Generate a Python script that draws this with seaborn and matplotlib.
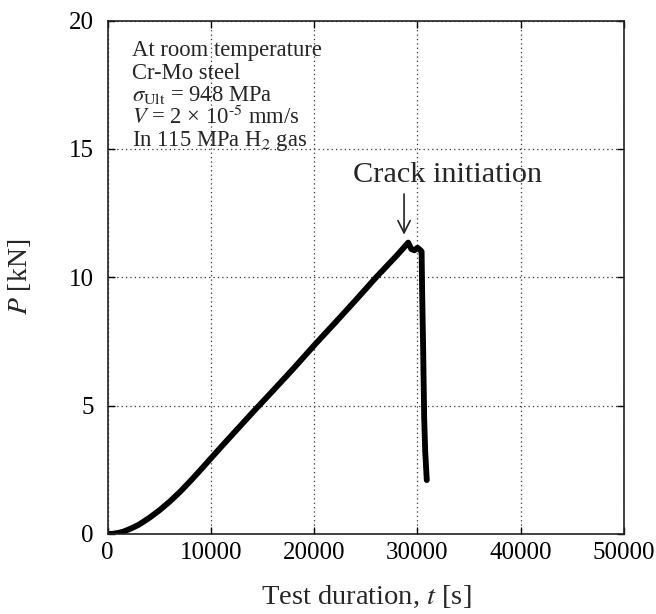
import matplotlib
matplotlib.use("Agg")
import matplotlib.pyplot as plt
import seaborn as sns
import pandas as pd

# Data
time_s = [0, 500, 1000, 1500, 2000, 2500, 3000, 4000, 5000, 6000, 7000,
          8000, 9000, 10000, 11000, 12000, 13000, 14000, 16000, 18000,
          20000, 22000, 24000, 26000, 28000, 29000, 29100, 29400, 29700,
          30000, 30300, 30400, 30450, 30550, 30650, 30750, 30900]
load_kN = [0, 0.01, 0.04, 0.09, 0.17, 0.26, 0.36, 0.62, 0.92, 1.26, 1.64,
           2.06, 2.5, 2.95, 3.4, 3.84, 4.28, 4.72, 5.58, 6.45,
           7.35, 8.22, 9.1, 10.0, 10.85, 11.3, 11.35, 11.1, 11.05,
           11.15, 11.05, 11.0, 9.5, 7.2, 4.5, 3.2, 2.1]
x_ticks = [0, 10000, 20000, 30000, 40000, 50000]
y_ticks = [0, 5, 10, 15, 20]
info_lines = ["At room temperature", "Cr-Mo steel",
              r"$\sigma_{\rm Ult}$ = 948 MPa",
              r"$V$ = 2 × 10$^{\text{-5}}$ mm/s",
              r"In 115 MPa H$_2$ gas"]
annotation_text = "Crack initiation"

df = pd.DataFrame({"t": time_s, "P": load_kN})

sns.set_style("ticks")
plt.rcParams["font.family"] = ["Liberation Serif", "DejaVu Serif"]
plt.rcParams["mathtext.fontset"] = "stix"

fig = plt.figure(figsize=(6.56, 6.14), dpi=100)
ax = fig.add_axes([0.1642, 0.1303, 0.787, 0.8363])

sns.lineplot(data=df, x="t", y="P", ax=ax, color="black", linewidth=4.2,
             sort=False, estimator=None)

ax.set_xlim(0, 50000)
ax.set_ylim(0, 20)
ax.set_xticks(x_ticks)
ax.set_yticks(y_ticks)
ax.set_xticklabels([str(v) for v in x_ticks])
ax.set_yticklabels([str(v) for v in y_ticks])
ax.grid(True, linestyle=(0, (1, 2.5)), color="#333333", linewidth=0.9)
ax.set_axisbelow(True)
for s in ax.spines.values():
    s.set_linewidth(1.2)
    s.set_color("#222222")
ax.tick_params(direction="in", top=True, right=True, length=5, width=1,
               labelsize=18, colors="black")
ax.tick_params(axis="x", pad=6)
ax.tick_params(axis="y", pad=10)

ax.set_xlabel("Test duration, $t$ [s]", fontsize=20.5)
ax.set_ylabel("$P$ [kN]", fontsize=20)
ax.xaxis.set_label_coords(0.5, -0.097)
ax.yaxis.set_label_coords(-0.145, 0.5)

base = [18.6, 17.74, 16.85, 15.98, 15.12]
for yb, line in zip(base, info_lines):
    ax.text(2350, yb, line, fontsize=16.3, ha="left", va="baseline")

ax.annotate("", xy=(28700, 11.55), xytext=(28700, 13.35),
            arrowprops=dict(arrowstyle="->", color="#222222", lw=1.2,
                            mutation_scale=22))
ax.text(32900, 13.7, annotation_text, fontsize=21.8, ha="center", va="baseline")

fig.savefig("out.png", dpi=100)
